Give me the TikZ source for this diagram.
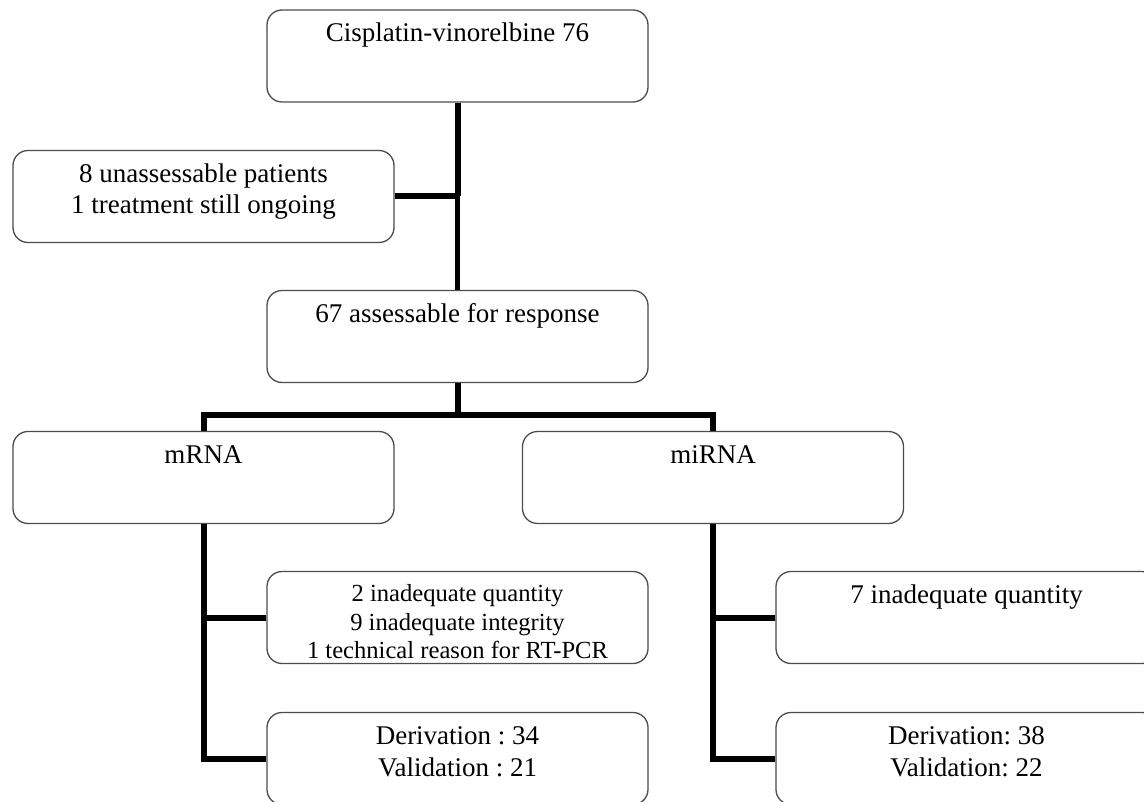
\documentclass[tikz,border=0pt]{standalone}
\usepackage{fontspec}
\setmainfont{Liberation Serif}
\usetikzlibrary{calc}

% text sits at the top of every box
\newcommand{\boxtext}[2][32pt]{\parbox[c][92pt][t]{381pt}{\centering\frenchspacing\rule{0pt}{#1}#2}}

\begin{document}
\begin{tikzpicture}[x=1pt, y=1pt,
    flowbox/.style={draw=black!70, line width=1.3pt, rounded corners=15pt,
        minimum width=381pt, minimum height=92pt, inner sep=0pt,
        font=\fontsize{27}{31.5}\selectfont},
    smallbox/.style={flowbox, font=\fontsize{24.6}{28.5}\selectfont},
    link/.style={line width=6pt},
    thinlink/.style={line width=4.5pt}]

\clip (0,0) rectangle (1144,-802);

% --- Enrolment ---
\node[flowbox] (top) at (457.5,-56) {\boxtext{Cisplatin-vinorelbine 76}};
\node[flowbox] (unass) at (203.5,-196.5) {\boxtext{8 unassessable patients\\1 treatment still ongoing}};
\node[flowbox] (assess) at (457.5,-336.5) {\boxtext{67 assessable for response}};

% --- Analyses ---
\node[flowbox] (mrna) at (203.5,-477.5) {\boxtext{mRNA}};
\node[flowbox] (mirna) at (713,-477.5) {\boxtext{miRNA}};

% --- mRNA branch ---
\node[smallbox] (exclm) at (457.5,-617.5) {\boxtext[30pt]{2 inadequate quantity\\9 inadequate integrity\\1 technical reason for RT-PCR}};
\node[flowbox] (derivm) at (457.5,-758.5) {\boxtext{Derivation : 34\\Validation : 21}};

% --- miRNA branch ---
\node[flowbox] (exclmi) at (966.5,-617.5) {\boxtext{7 inadequate quantity}};
\node[flowbox] (derivmi) at (966.5,-758.5) {\boxtext{Derivation: 38\\Validation: 22}};

% --- Connectors ---
\coordinate (join) at (top.south |- unass.east);
\draw[link] (top.south) -- (join);
\draw[link] (unass.east) -- (join);
\draw[thinlink] (join) -- (assess.north);

\draw[link] (assess.south) -- ++(0,-32) coordinate (split);
\draw[link] (mrna.north) |- (split) -| (mirna.north);

\draw[link] (mrna.south) |- (derivm.west);
\draw[link] (exclm.west) -- (exclm.west -| mrna.south);

\draw[link] (mirna.south) |- (derivmi.west);
\draw[link] (exclmi.west) -- (exclmi.west -| mirna.south);

\end{tikzpicture}
\end{document}
